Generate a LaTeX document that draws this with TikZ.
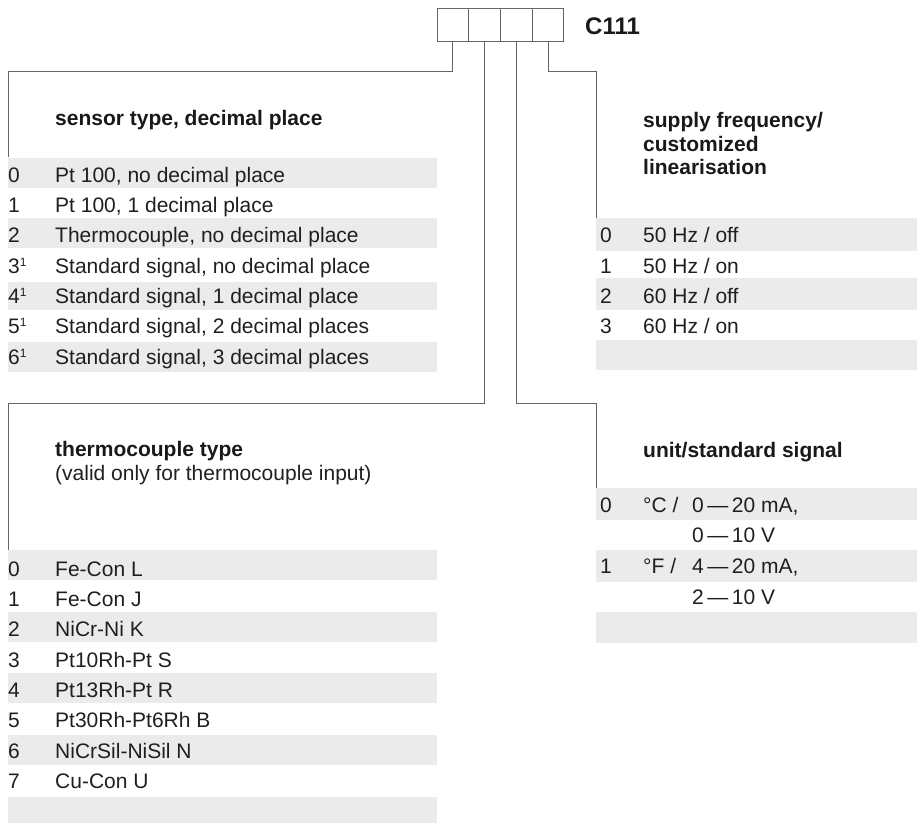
\documentclass[tikz,border=0pt]{standalone}
\usepackage{fontspec}
\setmainfont{Liberation Sans}
\newcommand{\supone}{\raisebox{7pt}{\fontsize{12}{12}\selectfont 1}}
\begin{document}
\begin{tikzpicture}[x=1pt,y=-1pt,
  txt/.style={anchor=base west,inner sep=0pt,font=\fontsize{21}{21}\selectfont,text=black!88},
  hd/.style={anchor=base west,inner sep=0pt,font=\fontsize{21}{21}\selectfont\bfseries,text=black!90},
  cell/.style={draw=black!60,line width=1pt,minimum width=31.75pt,minimum height=33pt,inner sep=0pt,outer sep=0pt},
  conn/.style={draw=black!60,line width=1pt},
  band/.style={fill=black!8,draw=none}]
\useasboundingbox (0,0) rectangle (917,823);
% faint background bands
\foreach \a/\b in {158/188,218/248,282/310,342/372,550/580,612/642,673/703,735/765,797/823}
  \path[band] (8,\a) rectangle (437,\b);
\foreach \a/\b in {218/251,278/310,340/370,488/520,550/582,612/643}
  \path[band] (596,\a) rectangle (917,\b);
% code cells
\node[cell] (d1) at (452.9,24.5) {};
\node[cell] (d2) at (484.6,24.5) {};
\node[cell] (d3) at (516.4,24.5) {};
\node[cell] (d4) at (548.1,24.5) {};
\node[anchor=base west,inner sep=0pt,font=\fontsize{24}{24}\selectfont\bfseries,text=black!90] (code) at (585,34) {C111};
% connector ends
\coordinate (c1) at (8,71);   \coordinate (e1) at (8,157);
\coordinate (c2) at (8,403);  \coordinate (e2) at (8,550);
\coordinate (c3) at (596,403);\coordinate (e3) at (596,488);
\coordinate (c4) at (596,71); \coordinate (e4) at (596,218);
\draw[conn] (d1.south) |- (c1) -- (e1);
\draw[conn] (d2.south) |- (c2) -- (e2);
\draw[conn] (d3.south) |- (c3) -- (e3);
\draw[conn] (d4.south) |- (c4) -- (e4);
% sensor type
\node[hd] (hs) at (55,125) {sensor type, decimal place};
\node[txt] (s0n) at (8,182) {0};            \node[txt] (s0) at (55,182) {Pt 100, no decimal place};
\node[txt] (s1n) at (8,212.3) {1};          \node[txt] (s1) at (55,212.3) {Pt 100, 1 decimal place};
\node[txt] (s2n) at (8,242.7) {2};          \node[txt] (s2) at (55,242.7) {Thermocouple, no decimal place};
\node[txt] (s3n) at (8,273) {3\supone};     \node[txt] (s3) at (55,273) {Standard signal, no decimal place};
\node[txt] (s4n) at (8,303.3) {4\supone};   \node[txt] (s4) at (55,303.3) {Standard signal, 1 decimal place};
\node[txt] (s5n) at (8,333.7) {5\supone};   \node[txt] (s5) at (55,333.7) {Standard signal, 2 decimal places};
\node[txt] (s6n) at (8,364) {6\supone};     \node[txt] (s6) at (55,364) {Standard signal, 3 decimal places};
% thermocouple type
\node[hd] (ht) at (55,456) {thermocouple type};
\node[txt] (ht2) at (55,480) {(valid only for thermocouple input)};
\node[txt] (t0n) at (8,576) {0}; \node[txt] (t0) at (55,576) {Fe-Con L};
\node[txt] (t1n) at (8,606.3) {1}; \node[txt] (t1) at (55,606.3) {Fe-Con J};
\node[txt] (t2n) at (8,636.6) {2}; \node[txt] (t2) at (55,636.6) {NiCr-Ni K};
\node[txt] (t3n) at (8,667) {3}; \node[txt] (t3) at (55,667) {Pt10Rh-Pt S};
\node[txt] (t4n) at (8,697.3) {4}; \node[txt] (t4) at (55,697.3) {Pt13Rh-Pt R};
\node[txt] (t5n) at (8,727.6) {5}; \node[txt] (t5) at (55,727.6) {Pt30Rh-Pt6Rh B};
\node[txt] (t6n) at (8,758) {6}; \node[txt] (t6) at (55,758) {NiCrSil-NiSil N};
\node[txt] (t7n) at (8,788.3) {7}; \node[txt] (t7) at (55,788.3) {Cu-Con U};
% supply frequency
\node[hd] (hf1) at (643,127) {supply frequency/};
\node[hd] (hf2) at (643,151) {customized};
\node[hd] (hf3) at (643,174) {linearisation};
\node[txt] (f0n) at (600,242.7) {0}; \node[txt] (f0) at (643,242.7) {50 Hz / off};
\node[txt] (f1n) at (600,273) {1};   \node[txt] (f1) at (643,273) {50 Hz / on};
\node[txt] (f2n) at (600,303.3) {2}; \node[txt] (f2) at (643,303.3) {60 Hz / off};
\node[txt] (f3n) at (600,333.7) {3}; \node[txt] (f3) at (643,333.7) {60 Hz / on};
% unit / standard signal
\node[hd] (hu) at (643,457) {unit/standard signal};
\node[txt] (u0n) at (600,512) {0}; \node[txt] (u0u) at (643,512) {°C /};
\node[txt] (u0a) at (692,512) {0\,—\,20 mA,};
\node[txt] (u0b) at (692,542.5) {0\,—\,10 V};
\node[txt] (u1n) at (600,573) {1}; \node[txt] (u1u) at (643,573) {°F /};
\node[txt] (u1a) at (692,573) {4\,—\,20 mA,};
\node[txt] (u1b) at (692,604) {2\,—\,10 V};
\end{tikzpicture}
\end{document}
